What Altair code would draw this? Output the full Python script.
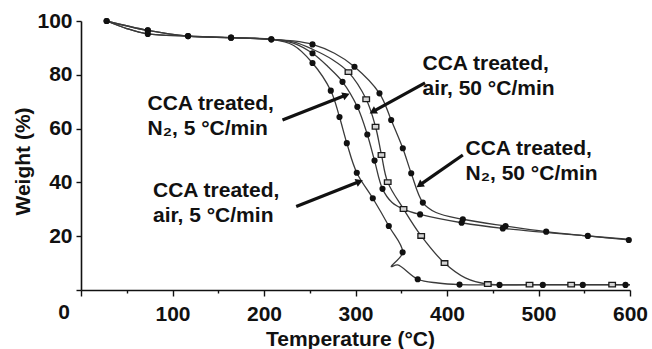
import math
import altair as alt
import pandas as pd

# ---------------- TGA runs: temperature (°C) vs. remaining weight (%) ----------------
# drying step shared by every run
start_n2_t = [28, 73, 117, 164, 208]
start_n2_w = [100, 96.5, 94.4, 93.8, 93.2]
start_n2_m = [1, 1, 1, 1, 1]
start_air_t = [28, 50, 73, 117, 164, 208]
start_air_w = [100, 97.2, 95.2, 94.4, 93.8, 93.2]
start_air_m = [0, 0, 1, 0, 0, 0]

# air, 5 °C/min
air5_t = [232, 253, 273, 282.5, 290.5, 301.4, 318.9, 336.4, 351.5, 339, 346, 368, 390, 413.7, 457.4, 504.7, 548.4, 595.1, 600]
air5_w = [91.0, 84.4, 74.1, 64.3, 54.6, 43.6, 34.1, 23.8, 14.0, 8.7, 9.3, 4.0, 2.6, 2.0, 1.9, 1.9, 1.9, 1.9, 1.9]
air5_m = [0, 1, 1, 1, 1, 1, 1, 1, 1, 0, 0, 1, 0, 1, 1, 1, 1, 1, 0]

# N2, 5 °C/min
n25_t = [232, 253, 270, 285.8, 302, 312.9, 320.8, 329.5, 340, 352.5, 370.6, 416, 461, 505, 550, 600]
n25_w = [91.8, 88.0, 83.0, 77.4, 68.1, 57.8, 48.1, 37.6, 32.5, 30.0, 28.1, 25.0, 22.9, 21.5, 20.2, 18.8]
n25_m = [0, 1, 0, 1, 1, 1, 1, 1, 0, 0, 1, 1, 1, 0, 0, 0]

# air, 50 °C/min
air50_t = [232, 253, 275, 292.3, 311.7, 321.9, 328.4, 335.2, 352.5, 371.8, 397.3, 420, 444.6, 490.2, 535.7, 580.5, 600]
air50_w = [92.2, 89.5, 85.6, 81.0, 70.9, 60.7, 50.2, 40.1, 30.1, 20.1, 10.0, 4.5, 2.2, 2.0, 2.0, 2.0, 2.0]
air50_m = [0, 0, 0, 1, 1, 1, 1, 1, 1, 1, 1, 0, 1, 1, 1, 1, 0]

# N2, 50 °C/min
n250_t = [232, 253, 277, 298.9, 326.2, 339, 351.7, 360.9, 373.6, 388, 417.3, 464, 508.4, 553.9, 598.7]
n250_w = [92.6, 91.3, 88.0, 83.0, 73.1, 63.2, 52.7, 43.4, 32.5, 28.8, 26.3, 23.8, 21.7, 20.1, 18.6]
n250_m = [0, 1, 0, 1, 1, 1, 1, 1, 1, 0, 1, 1, 1, 1, 1]

# callouts: text, anchor of the text, arrow tail and arrow head (data units)
label_text = [
    "CCA treated,\nN\u2082, 5 \u00b0C/min",
    "CCA treated,\nair, 5 \u00b0C/min",
    "CCA treated,\nair, 50 \u00b0C/min",
    "CCA treated,\nN\u2082, 50 \u00b0C/min",
]
label_t = [72.7, 78.7, 373.2, 420.2]
label_w = [66.9, 34.6, 81.6, 50.2]
arrow_t0 = [220.2, 235.2, 376.0, 417.3]
arrow_w0 = [63.2, 31.0, 77.0, 50.2]
arrow_t1 = [289.8, 304.4, 318.9, 370.0]
arrow_w1 = [72.5, 40.3, 66.3, 39.0]

# ---------------- layout ----------------
PLOT_W, PLOT_H = 549, 269
X_MAX, Y_MAX = 600, 100
FONT = "Liberation Sans"

runs = [
    ("air, 5 °C/min", start_air_t + air5_t, start_air_w + air5_w, start_air_m + air5_m, "dot"),
    ("N2, 5 °C/min", start_n2_t + n25_t, start_n2_w + n25_w, start_n2_m + n25_m, "dot"),
    ("air, 50 °C/min", start_air_t + air50_t, start_air_w + air50_w, [0] * len(start_air_t) + air50_m, "square"),
    ("N2, 50 °C/min", start_n2_t + n250_t, start_n2_w + n250_w, start_n2_m + n250_m, "dot"),
]

line_rows, dot_rows, sq_rows = [], [], []
for name, ts, ws, ms, kind in runs:
    for i, (t, w, m) in enumerate(zip(ts, ws, ms)):
        line_rows.append({"run": name, "T": t, "W": w, "i": i})
        if m:
            (sq_rows if kind == "square" else dot_rows).append({"run": name, "T": t, "W": w})

lines_df = pd.DataFrame(line_rows)
dots_df = pd.DataFrame(dot_rows)
sq_df = pd.DataFrame(sq_rows)

sx, sy = PLOT_W / X_MAX, PLOT_H / Y_MAX
arrows_df = pd.DataFrame({
    "t0": arrow_t0, "w0": arrow_w0, "t1": arrow_t1, "w1": arrow_w1,
})
arrows_df["angle"] = [
    math.degrees(math.atan2((t1 - t0) * sx, (w1 - w0) * sy)) % 360
    for t0, w0, t1, w1 in zip(arrow_t0, arrow_w0, arrow_t1, arrow_w1)
]
labels_df = pd.DataFrame({"text": label_text, "T": label_t, "W": label_w})
origin_df = pd.DataFrame({"T": [0], "W": [0], "text": ["0"]})

x_scale = alt.Scale(domain=[0, X_MAX], nice=False, zero=False)
y_scale = alt.Scale(domain=[0, Y_MAX], nice=False, zero=False)

x_axis = alt.Axis(
    title="Temperature (\u00b0C)",
    values=list(range(0, 601, 50)),
    labelExpr="datum.value % 100 === 0 && datum.value > 0 ? datum.label : ''",
    tickSize={"condition": {"test": "datum.value % 100 === 0", "value": 6}, "value": 3},
    labelPadding=7,
    labelOverlap=False,
    labelFlush=False,
    grid=False,
    titleX=269,
    titleY=55,
    titleBaseline="alphabetic",
    titleAnchor="start",
    titleAlign="center",
)
y_axis = alt.Axis(
    title="Weight (%)",
    values=list(range(0, 101, 5)),
    labelExpr="datum.value % 20 === 0 && datum.value > 0 ? datum.label : ''",
    tickSize=5,
    labelPadding=4,
    labelOverlap=False,
    labelFlush=False,
    grid=False,
    titleX=-58,
    titleY=140,
    titleAngle=270,
    titleBaseline="middle",
    titleAlign="center",
)

x_enc = alt.X("T:Q", scale=x_scale, axis=x_axis)
y_enc = alt.Y("W:Q", scale=y_scale, axis=y_axis)

curves = alt.Chart(lines_df).mark_line(
    interpolate="catmull-rom", color="#3a3a3a", strokeWidth=1.3
).encode(x=x_enc, y=y_enc, detail="run:N", order="i:Q")

dots = alt.Chart(dots_df).mark_point(
    shape="circle", filled=True, color="#111111", size=38, opacity=1
).encode(x="T:Q", y="W:Q")

squares = alt.Chart(sq_df).mark_point(
    shape="M-1.2,-0.85H1.2V0.85H-1.2Z", fill="#d4d4d4", stroke="#1a1a1a",
    strokeWidth=1.3, size=30, opacity=1, filled=False
).encode(x="T:Q", y="W:Q")

arrow_lines = alt.Chart(arrows_df).mark_rule(
    color="#111111", strokeWidth=3.2, strokeCap="butt"
).encode(x="t0:Q", y="w0:Q", x2="t1:Q", y2="w1:Q")

arrow_heads = alt.Chart(arrows_df).mark_point(
    shape="triangle-up", filled=True, color="#111111", size=70, opacity=1
).encode(x="t1:Q", y="w1:Q", angle=alt.Angle("angle:Q", scale=None))

labels = alt.Chart(labels_df).mark_text(
    align="left", baseline="alphabetic", font=FONT, fontSize=21, fontWeight="bold",
    lineBreak="\n", lineHeight=25, color="#111111"
).encode(x="T:Q", y="W:Q", text="text:N")

origin = alt.Chart(origin_df).mark_text(
    align="center", baseline="alphabetic", font=FONT, fontSize=21, fontWeight="bold",
    dx=-17, dy=29, color="#111111"
).encode(x="T:Q", y="W:Q", text="text:N")

chart = alt.layer(
    curves, squares, dots, arrow_lines, arrow_heads, labels, origin
).properties(
    width=PLOT_W,
    height=PLOT_H,
    autosize=alt.AutoSizeParams(type="none"),
    padding={"left": 81, "top": 21, "right": 22, "bottom": 59},
    background="white",
).configure_view(
    stroke=None
).configure_axis(
    domainColor="#111111",
    domainWidth=1.6,
    tickColor="#111111",
    tickWidth=1.4,
    labelFont=FONT,
    labelFontSize=21,
    labelFontWeight="bold",
    labelColor="#111111",
    titleFont=FONT,
    titleFontSize=21,
    titleFontWeight="bold",
    titleColor="#111111",
)

chart.save("out.html", embed_options={"renderer": "svg", "actions": False})
